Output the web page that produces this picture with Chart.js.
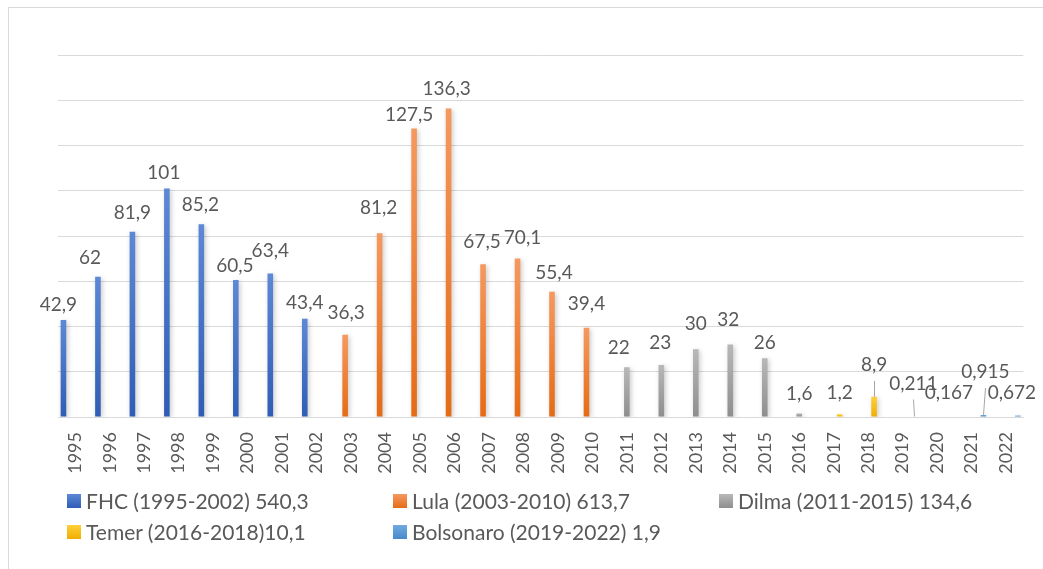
<!DOCTYPE html>
<html>
<head>
<meta charset="utf-8">
<script src="https://cdn.jsdelivr.net/npm/chart.js@4/dist/chart.umd.min.js"></script>
<style>
  html, body { margin: 0; padding: 0; background: #ffffff; }
  #wrap { position: relative; width: 1043px; height: 569px; overflow: hidden; background: #fff; }
  #frame { position: absolute; left: 8px; top: 7px; width: 1100px; height: 600px; border: 1.5px solid #d9d9d9; box-sizing: border-box; }
  #c { position: absolute; left: 0; top: 0; }
  #legend { position: absolute; left: 67px; top: 493px; width: 976px; font-family: Lato, sans-serif; font-size: 21px; color: #595959; }
  .item { position: absolute; white-space: nowrap; line-height: 16px; height: 16px; }
  .box { display: inline-block; width: 14px; height: 14px; vertical-align: top; margin-top: 1px; margin-right: 5px; }
  .txt { display: inline-block; vertical-align: top; line-height: 16px; }
</style>
</head>
<body>
<div id="wrap">
  <div id="frame"></div>
  <canvas id="c" width="1043" height="569"></canvas>
  <div id="legend"></div>
</div>
<script>
// ---- data ----
const years = ['1995','1996','1997','1998','1999','2000','2001','2002','2003','2004','2005','2006','2007','2008','2009','2010','2011','2012','2013','2014','2015','2016','2017','2018','2019','2020','2021','2022'];
const seriesNames = ['FHC (1995-2002) 540,3', 'Lula (2003-2010) 613,7', 'Dilma (2011-2015) 134,6', 'Temer (2016-2018)10,1', 'Bolsonaro (2019-2022) 1,9'];
const seriesStartYears = ['1995', '2003', '2011', '2017', '2019'];
const fhcValues = [42.9, 62, 81.9, 101, 85.2, 60.5, 63.4, 43.4];
const lulaValues = [36.3, 81.2, 127.5, 136.3, 67.5, 70.1, 55.4, 39.4];
const dilmaValues = [22, 23, 30, 32, 26, 1.6];
const temerValues = [1.2, 8.9];
const bolsonaroValues = [0.211, 0.167, 0.915, 0.672];

// ---- style ----
const seriesColors = [
  ['#5d88d6', '#2f5db5', '#4472c4'],
  ['#f5995f', '#e56b15', '#ed7d31'],
  ['#b8b8b8', '#8e8e8e', '#a5a5a5'],
  ['#ffcf3a', '#efae00', '#ffc000'],
  ['#72aadf', '#468ac9', '#5b9bd5']
];
// label nudges per year: [dx, distance above bar top to text middle, leader line]
const labelNudge = {
  '1995':[-5,15],'1996':[-8,19],'1997':[0,19],'1998':[-3,16],'1999':[-1,19],'2000':[-1,14],'2001':[0,23],'2002':[0,16],
  '2003':[1,22],'2004':[-1,25],'2005':[-5,14],'2006':[-2,20],'2007':[-1,22],'2008':[5,21],'2009':[2,19],'2010':[0,24],
  '2011':[-8,19],'2012':[-1,22],'2013':[0,25],'2014':[-2,25],'2015':[0,15],'2016':[0,20],'2017':[0,21],'2018':[0,32,true],
  '2019':[-1,33,true],'2020':[0,24],'2021':[2,43,true],'2022':[-6,23]
};
const textColor = '#595959';
const FONT = 'Lato, "Open Sans", sans-serif';

const allValues = [fhcValues, lulaValues, dilmaValues, temerValues, bolsonaroValues];
function fullSeries(values, startYear) {
  const start = years.indexOf(startYear);
  return years.map((y, i) => (i >= start && i < start + values.length) ? values[i - start] : null);
}
function fmt(v) { return String(v).replace('.', ','); }

function gradientFor(si) {
  return function(ctx) {
    const chart = ctx.chart;
    const c = seriesColors[si];
    if (!chart.chartArea || !chart.scales || !chart.scales.y || ctx.raw == null) return c[2];
    const ys = chart.scales.y;
    const top = ys.getPixelForValue(ctx.raw);
    const bottom = ys.getPixelForValue(0);
    if (!isFinite(top) || !isFinite(bottom) || bottom - top < 0.5) return c[2];
    const g = chart.ctx.createLinearGradient(0, top, 0, bottom);
    g.addColorStop(0, c[0]);
    g.addColorStop(1, c[1]);
    return g;
  };
}

const datasets = seriesNames.map((name, si) => ({
  label: name,
  data: fullSeries(allValues[si], seriesStartYears[si]),
  backgroundColor: gradientFor(si),
  borderWidth: 0,
  categoryPercentage: 0.855,
  barPercentage: 0.95
}));

const shadowPlugin = {
  id: 'shadow',
  beforeDatasetsDraw(chart) {
    const ctx = chart.ctx;
    ctx.save();
    ctx.shadowColor = 'rgba(0,0,0,0.22)';
    ctx.shadowBlur = 5;
    ctx.shadowOffsetX = 1.5;
    ctx.shadowOffsetY = 1.5;
  },
  afterDatasetsDraw(chart) {
    chart.ctx.restore();
  }
};

const labelPlugin = {
  id: 'valueLabels',
  afterDatasetsDraw(chart) {
    const ctx = chart.ctx;
    ctx.save();
    ctx.font = '19px ' + FONT;
    ctx.fillStyle = textColor;
    ctx.textAlign = 'center';
    ctx.textBaseline = 'middle';
    chart.data.datasets.forEach((ds, di) => {
      const meta = chart.getDatasetMeta(di);
      meta.data.forEach((el, i) => {
        const v = ds.data[i];
        if (v == null) return;
        const n = labelNudge[years[i]] || [0, 19];
        const lx = el.x + n[0];
        const ly = el.y - n[1];
        if (n[2]) {
          ctx.strokeStyle = '#a6a6a6';
          ctx.lineWidth = 1;
          ctx.beginPath();
          ctx.moveTo(Math.round(lx) + 0.5, ly + 16);
          ctx.lineTo(Math.round(el.x) + 0.5, el.y);
          ctx.stroke();
        }
        ctx.fillText(fmt(v), lx, ly);
      });
    });
    ctx.restore();
  }
};

Chart.defaults.font.family = FONT;
Chart.defaults.color = textColor;

new Chart(document.getElementById('c'), {
  type: 'bar',
  data: { labels: years, datasets },
  options: {
    responsive: false,
    animation: false,
    layout: { padding: { left: 58, right: 17, top: 55, bottom: 92 } },
    plugins: { legend: { display: false }, tooltip: { enabled: false } },
    scales: {
      x: {
        grid: { display: false, drawTicks: false },
        border: { display: true, color: '#d9d9d9', width: 1 },
        ticks: { autoSkip: false, minRotation: 90, maxRotation: 90, padding: 15, color: textColor, font: { size: 18, family: FONT } },
        afterFit(scale) { scale.height = 60; }
      },
      y: {
        min: 0, max: 160,
        ticks: { display: false, stepSize: 20 },
        grid: { color: '#d9d9d9', lineWidth: 1, drawTicks: false },
        border: { display: false },
        afterFit(scale) { scale.width = 0; }
      }
    }
  },
  plugins: [shadowPlugin, labelPlugin]
});

// ---- HTML legend ----
const legendPos = [[0, 0], [326, 0], [652, 0], [0, 31], [326, 31]];
const legendEl = document.getElementById('legend');
seriesNames.forEach((name, si) => {
  const item = document.createElement('div');
  item.className = 'item';
  item.style.left = legendPos[si][0] + 'px';
  item.style.top = legendPos[si][1] + 'px';
  const box = document.createElement('span');
  box.className = 'box';
  box.style.background = 'linear-gradient(' + seriesColors[si][0] + ',' + seriesColors[si][1] + ')';
  const txt = document.createElement('span');
  txt.className = 'txt';
  txt.textContent = name;
  item.appendChild(box);
  item.appendChild(txt);
  legendEl.appendChild(item);
});
</script>
</body>
</html>
